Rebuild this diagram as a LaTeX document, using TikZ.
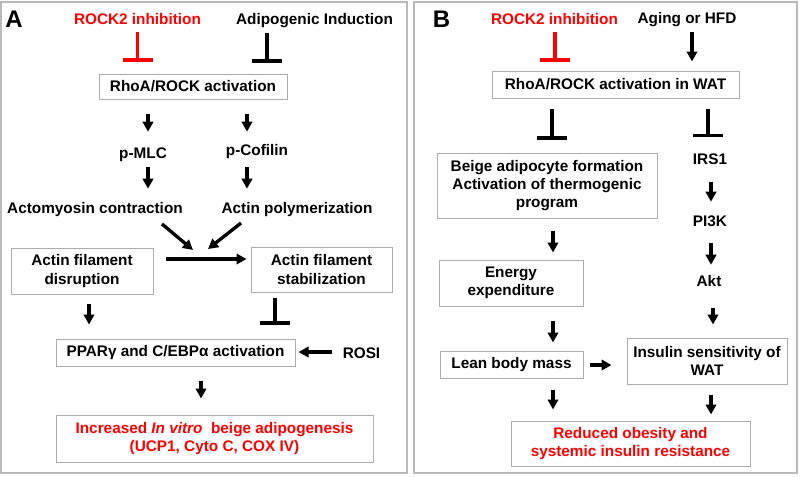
\documentclass[tikz,border=0pt]{standalone}
\usepackage{fontspec}
\setmainfont{Liberation Sans}
\usetikzlibrary{arrows.meta}
\begin{document}
\begin{tikzpicture}[x=0.75pt,y=-0.75pt,
  every node/.style={font=\bfseries\fontsize{11.5}{13.8}\selectfont},
  lbl/.style={inner sep=0pt, text height=8.5pt, text depth=2.5pt},
  box/.style={draw=gray!65, line width=0.75pt, inner sep=0pt, align=center},
  panel/.style={draw=gray!55, line width=1.1pt},
  arr/.style={line width=2.5pt, -{Triangle[length=7.5pt,width=7.8pt]}},
  inh/.style={line width=2.4pt, -{Bar[width=22.5pt]}},
  ttl/.style={inner sep=0pt, font=\bfseries\fontsize{18}{20}\selectfont},
  hi/.style={text=red}
]
\useasboundingbox (0,0) rectangle (800,476);
\draw[panel] (1,2) rectangle (407,473);
\draw[panel] (414,2) rectangle (797,473);

% Panel A
\node[ttl] (labA) at (14,19) {A};
\node[lbl,hi] (rockA) at (137.5,20.5) {ROCK2 inhibition};
\node[lbl] (adipo) at (314.5,20.5) {Adipogenic Induction};
\node[box, minimum width=141pt, minimum height=18.75pt] (rhoA) at (193,86.5) {RhoA/ROCK activation};
\node[lbl] (pmlc) at (143,154.5) {p-MLC};
\node[lbl] (pcof) at (257,151.5) {p-Cofilin};
\node[lbl] (acto) at (95,209.5) {Actomyosin contraction};
\node[lbl] (poly) at (297,209.5) {Actin polymerization};
\node[box, minimum width=106.5pt, minimum height=34.5pt] (disr) at (82,271) {Actin filament\\disruption};
\node[box, minimum width=105.75pt, minimum height=33.75pt] (stab) at (321.5,269.5) {Actin filament\\stabilization};
\node[box, minimum width=179.25pt, minimum height=20.25pt] (ppar) at (175.5,352.5) {PPARγ and C/EBPα activation};
\node[lbl] (rosi) at (361.5,354) {ROSI};
\node[box, hi, minimum width=237.75pt, minimum height=35.25pt] (incr) at (214.5,438.5) {Increased \textit{In vitro}~ beige adipogenesis\\(UCP1, Cyto C, COX IV)};

% Panel B
\node[ttl] (labB) at (441.5,19) {B};
\node[lbl,hi] (rockB) at (554.5,20.5) {ROCK2 inhibition};
\node[lbl] (aging) at (687,19.5) {Aging or HFD};
\node[box, minimum width=185.25pt, minimum height=20.25pt] (rhoB) at (615.5,84.5) {RhoA/ROCK activation in WAT};
\node[box, minimum width=165pt, minimum height=48.75pt] (beige) at (547,185.5) {Beige adipocyte formation\\Activation of thermogenic\\program};
\node[lbl] (irs) at (710,160.5) {IRS1};
\node[lbl] (pi3k) at (710,222.5) {PI3K};
\node[lbl] (akt) at (709,282.5) {Akt};
\node[box, minimum width=108pt, minimum height=34.5pt] (energy) at (511,283) {Energy\\expenditure};
\node[box, minimum width=107.25pt, minimum height=20.25pt] (lean) at (511.5,364.5) {Lean body mass};
\node[box, minimum width=120pt, minimum height=34.5pt] (insul) at (707,361) {Insulin sensitivity of\\WAT};
\node[box, hi, minimum width=179.25pt, minimum height=33.75pt] (redu) at (630.5,443.5) {Reduced obesity and\\systemic insulin resistance};

% Connectors A
\draw[inh,red,shorten <=3.2pt,shorten >=9pt] (rockA.south -| 137.7,0) -- (rhoA.north -| 137.7,0);
\draw[inh,shorten <=3.9pt,shorten >=8.25pt] (adipo.south -| 267,0) -- (rhoA.north -| 267,0);
\draw[arr,shorten <=10.5pt,shorten >=11.4pt] (rhoA.south -| 148,0) -- (pmlc.north -| 148,0);
\draw[arr,shorten <=10.5pt,shorten >=9.15pt] (rhoA.south -| 247,0) -- (pcof.north -| 247,0);
\draw[arr,shorten <=3.9pt,shorten >=9.9pt] (pmlc.south -| 148,0) -- (acto.north -| 148,0);
\draw[arr,shorten <=6.15pt,shorten >=9.9pt] (pcof.south -| 247,0) -- (poly.north -| 247,0);
\coordinate (d1s) at (162,224); \coordinate (d1e) at (193,250);
\coordinate (d2s) at (241,223); \coordinate (d2e) at (208,249);
\draw[arr] (d1s) -- (d1e);
\draw[arr] (d2s) -- (d2e);
\draw[arr,shorten <=9pt,shorten >=3pt] (disr.east |- 0,259) -- (stab.west |- 0,259);
\draw[arr,shorten <=6.75pt,shorten >=10.5pt] (disr.south -| 89,0) -- (ppar.north -| 89,0);
\draw[inh,shorten <=3.75pt,shorten >=10.5pt] (stab.south -| 275,0) -- (ppar.north -| 275,0);
\draw[arr,shorten <=7.5pt,shorten >=2.25pt] (rosi.west |- 0,352) -- (ppar.east |- 0,352);
\draw[arr,shorten <=10.5pt,shorten >=12pt] (ppar.south -| 201,0) -- (incr.north -| 201,0);

% Connectors B
\draw[inh,red,shorten <=3.2pt,shorten >=6.75pt] (rockB.south -| 555,0) -- (rhoB.north -| 555,0);
\draw[arr,shorten <=3.9pt,shorten >=6.75pt] (aging.south -| 692,0) -- (rhoB.north -| 692,0);
\draw[inh,shorten <=7.5pt,shorten >=9.75pt] (rhoB.south -| 552,0) -- (beige.north -| 552,0);
\draw[inh,shorten <=7.5pt,shorten >=12.15pt] (rhoB.south -| 708,0) -- (irs.north -| 708,0);
\draw[arr,shorten <=10.65pt,shorten >=9.9pt] (irs.south -| 711,0) -- (pi3k.north -| 711,0);
\draw[arr,shorten <=9.9pt,shorten >=7.65pt] (pi3k.south -| 711,0) -- (akt.north -| 711,0);
\draw[arr,shorten <=13.65pt,shorten >=9.75pt] (akt.south -| 713,0) -- (insul.north -| 713,0);
\draw[arr,shorten <=9pt,shorten >=5.25pt] (beige.south -| 553,0) -- (energy.north -| 553,0);
\draw[arr,shorten <=10.5pt,shorten >=6pt] (energy.south -| 553,0) -- (lean.north -| 553,0);
\draw[arr,shorten <=4.5pt,shorten >=11.25pt] (lean.east |- 0,365) -- (insul.west |- 0,365);
\draw[arr,shorten <=8.25pt,shorten >=8.25pt] (lean.south -| 553,0) -- (redu.north -| 553,0);
\draw[arr,shorten <=7.5pt,shorten >=4.5pt] (insul.south -| 711,0) -- (redu.north -| 711,0);
\end{tikzpicture}
\end{document}
